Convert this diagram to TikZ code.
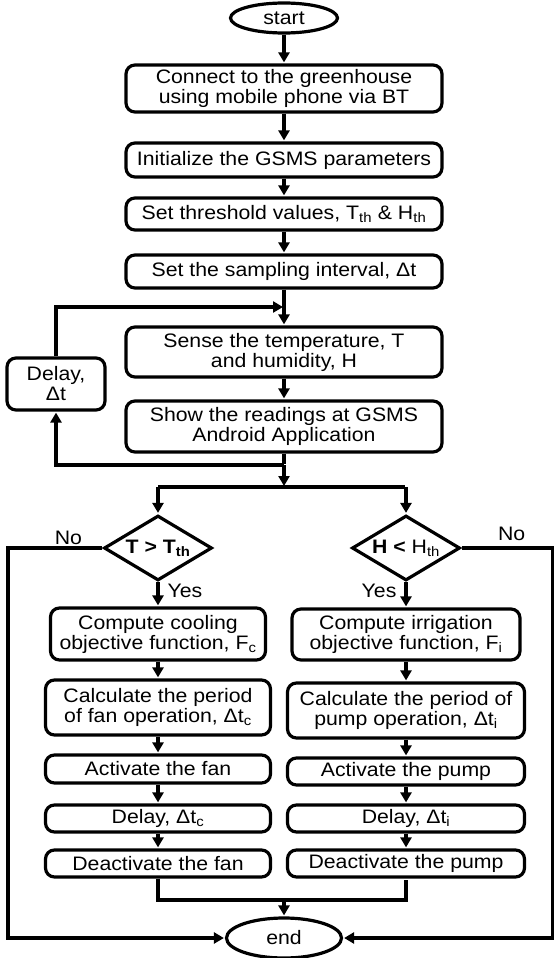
\documentclass[tikz,border=0pt]{standalone}
\usepackage{fontspec}
\setmainfont[FakeStretch=1.09]{Liberation Sans}
\usetikzlibrary{shapes,arrows.meta}

\begin{document}
\begin{tikzpicture}[->,>={Triangle[length=10pt,width=11pt]},shorten >=1pt,x=1pt,y=-1pt,line width=3.2pt,
  font=\fontsize{19.5}{20}\selectfont]
\tikzstyle{every node}=[inner sep=2pt]
\tikzstyle{box}=[draw,rectangle,rounded corners=9pt,align=center,minimum width=316pt]
\tikzstyle{term}=[draw,ellipse,inner sep=0pt]
\tikzstyle{test}=[draw,diamond,aspect=1.66,inner sep=0pt,minimum width=108pt,minimum height=65pt]
\tikzstyle{lbox}=[box,minimum width=225pt]
\tikzstyle{rbox}=[box,minimum width=237pt]
\useasboundingbox (0,0) rectangle (554,958);

% main column
\node[term,minimum width=107pt,minimum height=30pt] (S) at (284,18) {start};
\node[box,minimum height=47pt] (A) at (284,88.5) {Connect to the greenhouse\\using mobile phone via BT};
\node[box,minimum height=34pt] (B) at (284,160) {Initialize the GSMS parameters};
\node[box,minimum height=32pt] (C) at (284,214) {Set threshold values, T\textsubscript{th} \& H\textsubscript{th}};
\node[box,minimum height=33pt] (D) at (284,271.5) {Set the sampling interval, Δt};
\node[box,minimum height=50pt] (E) at (284,352) {Sense the temperature, T\\and humidity, H};
\node[box,minimum height=51pt] (F) at (284,426.5) {Show the readings at GSMS\\Android Application};
\node[box,minimum width=98pt,minimum height=52pt] (G) at (56,384) {Delay,\\Δt};

% tests
\node[test] (L) at (158,548) {\bfseries T > T\textsubscript{th}};
\node[test] (R) at (406,548) {\bfseries H <\mdseries{} H\textsubscript{th}};

% cooling branch
\node[lbox,minimum width=215pt,minimum height=52pt] (L1) at (158,634) {Compute cooling\\objective function, F\textsubscript{c}};
\node[lbox,minimum height=55pt] (L2) at (158,707.5) {Calculate the period\\of fan operation, Δt\textsubscript{c}};
\node[lbox,minimum height=28pt] (L3) at (158,769) {Activate the fan};
\node[lbox,minimum height=27pt] (L4) at (158,818.5) {Delay, Δt\textsubscript{c}};
\node[lbox,minimum height=27pt] (L5) at (158,863.5) {Deactivate the fan};

% irrigation branch
\node[rbox,minimum width=228pt,minimum height=51pt] (R1) at (406,634.5) {Compute irrigation\\objective function, F\textsubscript{i}};
\node[rbox,minimum height=55pt] (R2) at (406,710.5) {Calculate the period of\\pump operation, Δt\textsubscript{i}};
\node[rbox,minimum height=27pt] (R3) at (406,771.5) {Activate the pump};
\node[rbox,minimum height=27pt] (R4) at (406,818.5) {Delay, Δt\textsubscript{i}};
\node[rbox,minimum height=27pt] (R5) at (406,863.5) {Deactivate the pump};

\node[term,minimum width=115pt,minimum height=40pt] (Z) at (284,938) {end};

\coordinate (m) at (284,307);
\coordinate (j) at (284,465);
\coordinate (sp) at (284,487);
\coordinate (spl) at (158,487);
\coordinate (spr) at (406,487);
\coordinate (nl) at (8,548);
\coordinate (nr) at (552.5,548);
\coordinate (mb) at (284,900);

\path (S) edge (A)
      (A) edge (B)
      (B) edge (C)
      (C) edge (D)
      (D) edge (E)
      (E) edge (F);
\draw[-] (F) -- (j);
\draw (j) -| (G);
\draw (G) |- (m);
\draw (j) -- (sp);
\draw[-] (spl) -- (spr);
\path (spl) edge (L)
      (spr) edge (R)
      (L) edge node[right=6pt,pos=0.36]{Yes} (L1)
      (R) edge node[left=6pt,pos=0.36]{Yes} (R1)
      (L1) edge (L2)
      (L2) edge (L3)
      (L3) edge (L4)
      (L4) edge (L5)
      (R1) edge (R2)
      (R2) edge (R3)
      (R3) edge (R4)
      (R4) edge (R5);
\draw[-] (L5) |- (mb) -| (R5);
\draw (mb) -- (Z);
\draw (L) -- node[above,pos=0.36]{No} (nl) |- (Z);
\draw (R) -- node[above=4pt,pos=0.55]{No} (nr) |- (Z);
\end{tikzpicture}
\end{document}
